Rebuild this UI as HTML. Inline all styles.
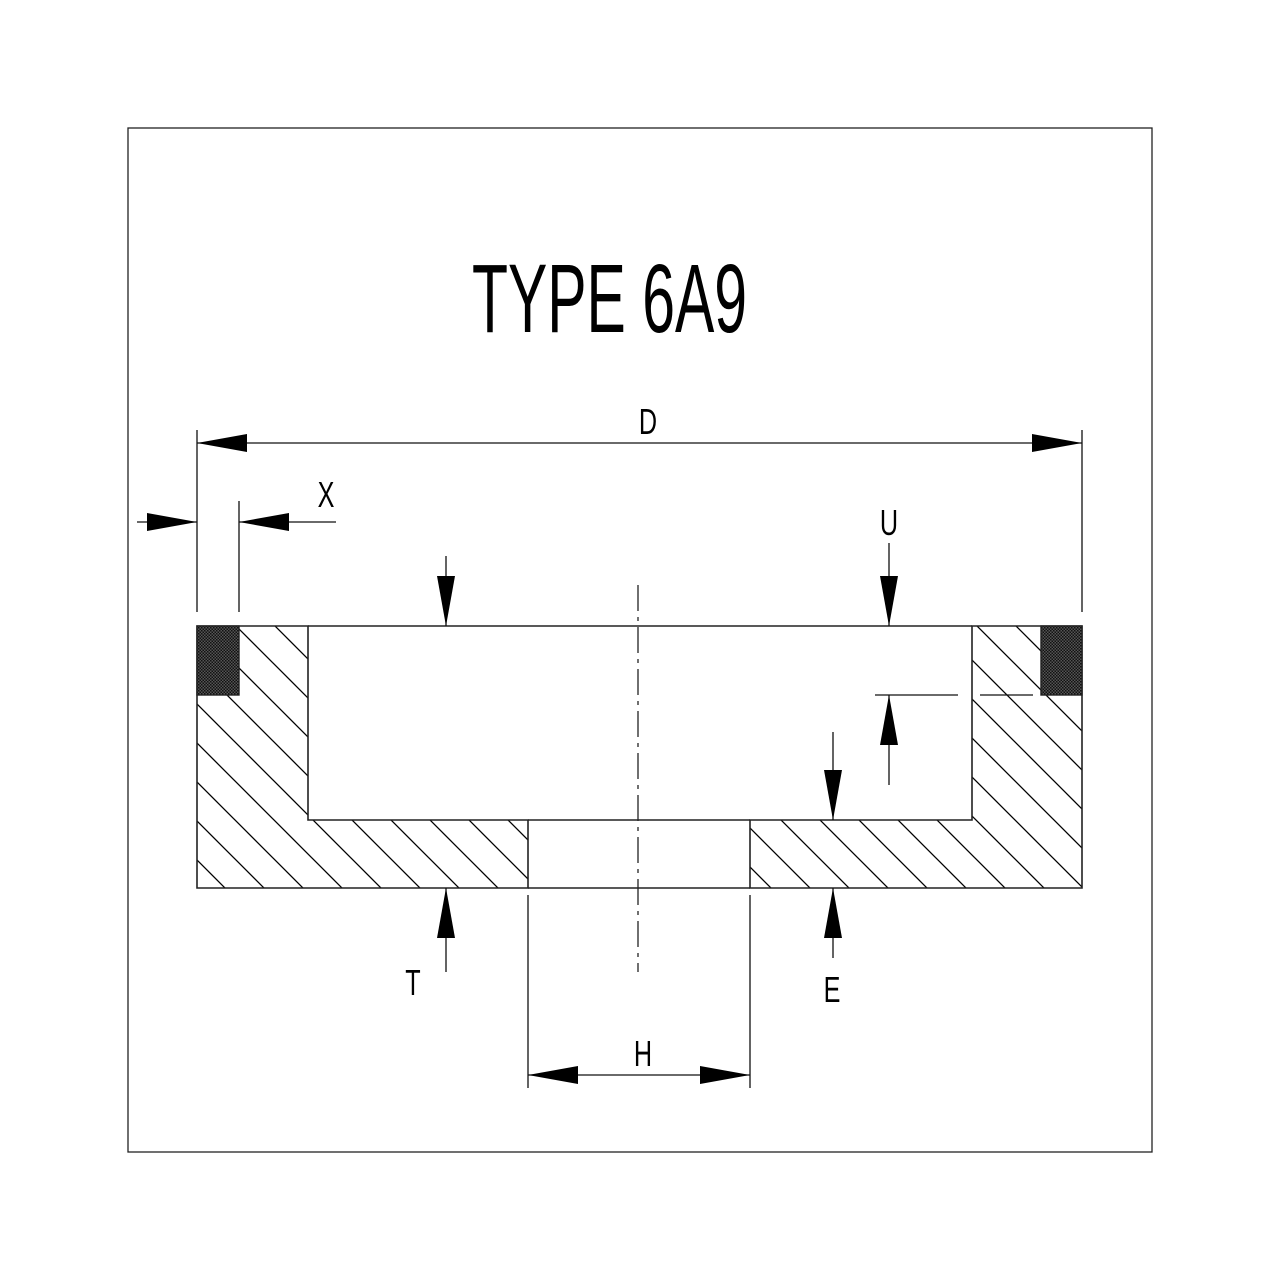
<!DOCTYPE html>
<html><head><meta charset="utf-8"><style>html,body{margin:0;padding:0;background:#fff}svg{display:block}</style></head>
<body>
<svg width="1280" height="1280" viewBox="0 0 1280 1280" xmlns="http://www.w3.org/2000/svg">
<defs>
<pattern id="h" patternUnits="userSpaceOnUse" width="39" height="39">
<line x1="0" y1="0" x2="39" y2="39" stroke="#000" stroke-width="1.3"/>
<line x1="-39" y1="0" x2="39" y2="78" stroke="#000" stroke-width="1.3"/>
<line x1="0" y1="-39" x2="78" y2="39" stroke="#000" stroke-width="1.3"/>
</pattern>
<pattern id="g" patternUnits="userSpaceOnUse" width="3" height="3">
<rect width="3" height="3" fill="#555"/><rect width="1.5" height="1.5" fill="#111"/><rect x="1.5" y="1.5" width="1.5" height="1.5" fill="#111"/>
</pattern>
</defs>
<rect x="128" y="128" width="1024" height="1024" fill="none" stroke="#222" stroke-width="1.3"/>
<text x="472" y="332" font-family="Liberation Sans, sans-serif" font-size="97" textLength="275" lengthAdjust="spacingAndGlyphs">TYPE 6A9</text>
<g fill="url(#h)" stroke="#222" stroke-width="1.6">
<path d="M197 626 H308 V820 H528 V888 H197 Z"/>
<path d="M972 626 H1082 V888 H750 V820 H972 Z"/>
</g>
<line x1="308" y1="626" x2="972" y2="626" stroke="#222" stroke-width="1.6"/>
<line x1="528" y1="888" x2="750" y2="888" stroke="#222" stroke-width="1.6"/>
<line x1="528" y1="820" x2="750" y2="820" stroke="#222" stroke-width="1.6"/>
<rect x="197" y="626" width="42" height="69" fill="url(#g)" stroke="#222" stroke-width="1.4"/>
<rect x="1041" y="626" width="41" height="69" fill="url(#g)" stroke="#222" stroke-width="1.4"/>
<line x1="638" y1="585" x2="638" y2="972" stroke="#222" stroke-width="1.3" stroke-dasharray="26,6,4,6"/>
<g stroke="#111" stroke-width="1.3" fill="none">
<line x1="197" y1="430" x2="197" y2="612"/><line x1="1082" y1="430" x2="1082" y2="612"/>
<line x1="197" y1="443" x2="1082" y2="443"/>
<line x1="239" y1="501" x2="239" y2="612"/>
<line x1="137" y1="522" x2="197" y2="522"/><line x1="239" y1="522" x2="336" y2="522"/>
<line x1="446" y1="556" x2="446" y2="626"/>
<line x1="889" y1="543" x2="889" y2="626"/>
<line x1="875" y1="695" x2="958" y2="695"/><line x1="980" y1="695" x2="1033" y2="695"/>
<line x1="889" y1="695" x2="889" y2="785"/>
<line x1="833" y1="732" x2="833" y2="820"/>
<line x1="446" y1="888" x2="446" y2="972"/>
<line x1="833" y1="888" x2="833" y2="958"/>
<line x1="528" y1="895" x2="528" y2="1088"/><line x1="750" y1="895" x2="750" y2="1088"/>
<line x1="528" y1="1075" x2="750" y2="1075"/>
</g>
<g fill="#000">
<path d="M197 443 L247 434 L247 452 Z"/><path d="M1082 443 L1032 434 L1032 452 Z"/>
<path d="M197 522 L147 513 L147 531 Z"/><path d="M239 522 L289 513 L289 531 Z"/>
<path d="M446 626 L437 576 L455 576 Z"/>
<path d="M889 626 L880 576 L898 576 Z"/>
<path d="M889 695 L880 745 L898 745 Z"/>
<path d="M833 820 L824 770 L842 770 Z"/>
<path d="M446 888 L437 938 L455 938 Z"/>
<path d="M833 888 L824 938 L842 938 Z"/>
<path d="M528 1075 L578 1066 L578 1084 Z"/><path d="M750 1075 L700 1066 L700 1084 Z"/>
</g>
<g font-family="Liberation Sans, sans-serif" font-size="36" text-anchor="middle">
<text x="648" y="434" transform="translate(648 0) scale(0.7 1) translate(-648 0)">D</text>
<text x="326" y="507" transform="translate(326 0) scale(0.7 1) translate(-326 0)">X</text>
<text x="889" y="535" transform="translate(889 0) scale(0.7 1) translate(-889 0)">U</text>
<text x="413" y="995" transform="translate(413 0) scale(0.7 1) translate(-413 0)">T</text>
<text x="832" y="1002" transform="translate(832 0) scale(0.7 1) translate(-832 0)">E</text>
<text x="643" y="1066" transform="translate(643 0) scale(0.7 1) translate(-643 0)">H</text>
</g>
</svg>
</body></html>
